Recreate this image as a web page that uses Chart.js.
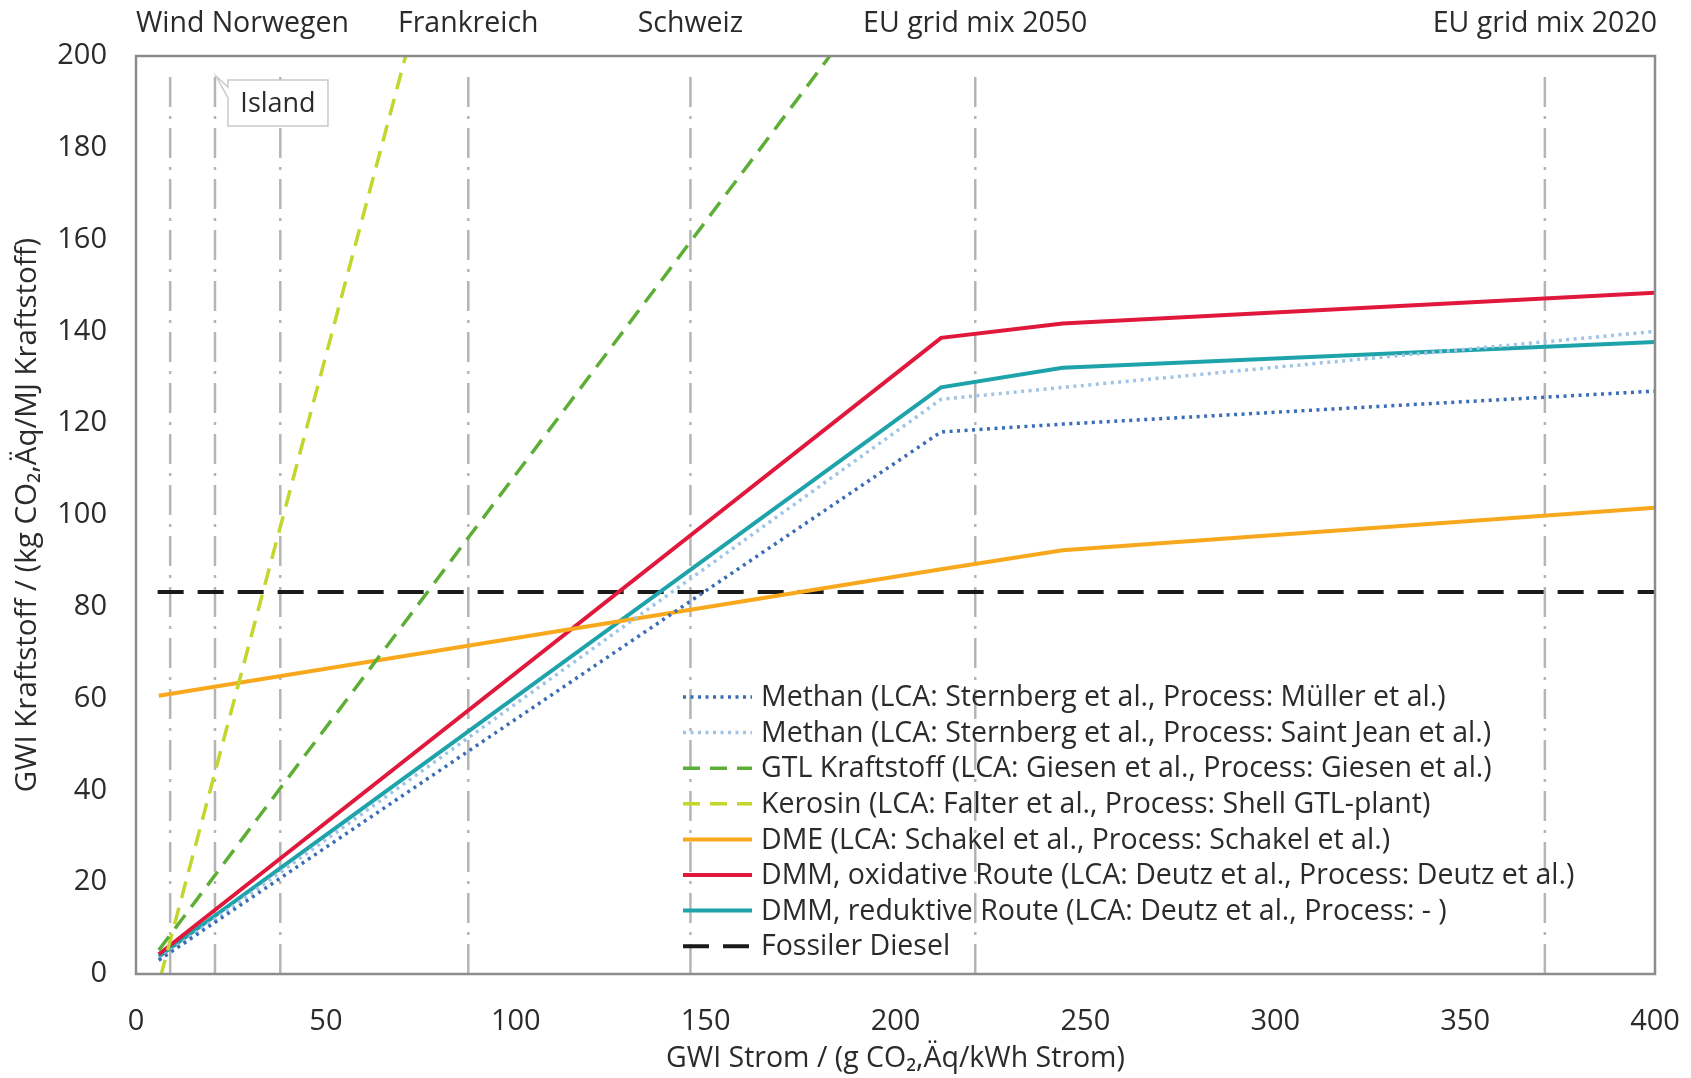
<!DOCTYPE html>
<html lang="de">
<head>
<meta charset="UTF-8">
<title>GWI Kraftstoff vs. GWI Strom</title>
<script src="https://cdn.jsdelivr.net/npm/chart.js@4.4.0/dist/chart.umd.min.js"></script>
<style>
  html, body { margin: 0; padding: 0; background: #fff; }
  #wrap { width: 1691px; height: 1078px; }
</style>
</head>
<body>
<div id="wrap"><canvas id="gwiChart" width="1691" height="1078"></canvas></div>
<script>
// electricity mixes, drawn as vertical dash-dot lines (g CO2,Äq/kWh)
const mixNames  = ['Wind', 'Island', 'Norwegen', 'Frankreich', 'Schweiz', 'EU grid mix 2050', 'EU grid mix 2020'];
const mixValues = [9, 20.8, 38, 87.5, 146, 221, 371];
const mixLineTop = 197;
const calloutName = 'Island';

// x = GWI Strom, y = GWI Kraftstoff
const methanMuellerX = [6, 212, 244, 400];
const methanMuellerY = [3, 118.1, 119.8, 127];
const methanSaintJeanX = [6, 212, 244, 400];
const methanSaintJeanY = [3.2, 125.2, 127.8, 140];
const gtlX = [6, 182.7];
const gtlY = [5.2, 200];
const kerosinX = [6.5, 71];
const kerosinY = [-0.5, 200];
const dmeX = [6, 212, 244, 400];
const dmeY = [60.6, 88.2, 92.3, 101.6];
const dmmOxX = [6, 212, 244, 400];
const dmmOxY = [4.3, 138.6, 141.7, 148.4];
const dmmRedX = [6, 212, 244, 400];
const dmmRedY = [3.8, 127.8, 132.1, 137.7];
const dieselX = [5.7, 400];
const dieselY = [83.2, 83.2];

const xTicks = [0, 50, 100, 150, 200, 250, 300, 350, 400];
const yTicks = [0, 20, 40, 60, 80, 100, 120, 140, 160, 180, 200];

const FONT = "'Open Sans', sans-serif";
const TEXT = '#2b2b2b';

function pts(xs, ys) { return xs.map((x, i) => ({ x: x, y: ys[i] })); }

function series(label, xs, ys, color, width, dash) {
  return {
    label: label, data: pts(xs, ys), borderColor: color, backgroundColor: color,
    borderWidth: width, borderDash: dash || [], pointRadius: 0, tension: 0, order: 0
  };
}

const datasets = [
  series('Methan (LCA: Sternberg et al., Process: Müller et al.)', methanMuellerX, methanMuellerY, '#3a6db5', 3.5, [3, 4.5]),
  series('Methan (LCA: Sternberg et al., Process: Saint Jean et al.)', methanSaintJeanX, methanSaintJeanY, '#9fc4e6', 3.5, [3, 4.5]),
  series('GTL Kraftstoff (LCA: Giesen et al., Process: Giesen et al.)', gtlX, gtlY, '#5cae36', 3.5, [17, 10]),
  series('Kerosin (LCA: Falter et al., Process: Shell GTL-plant)', kerosinX, kerosinY, '#c2d62c', 3.5, [17, 10]),
  series('DME (LCA: Schakel et al., Process: Schakel et al.)', dmeX, dmeY, '#f8a81c', 4),
  series('DMM, oxidative Route (LCA: Deutz et al., Process: Deutz et al.)', dmmOxX, dmmOxY, '#e0183c', 4),
  series('DMM, reduktive Route (LCA: Deutz et al., Process: - )', dmmRedX, dmmRedY, '#1fa3aa', 4),
  series('Fossiler Diesel', dieselX, dieselY, '#1a1a1a', 4, [26, 14])
];

mixValues.forEach((v, i) => {
  datasets.push({
    label: mixNames[i], isRef: true,
    data: [{ x: v, y: 0 }, { x: v, y: mixLineTop }],
    borderColor: '#b5b5b5', borderWidth: 2.5, borderDash: [30, 9, 3, 9],
    pointRadius: 0, order: 10
  });
});

// frame + mix labels + callout
const decorPlugin = {
  id: 'decor',
  afterDatasetsDraw(chart) {
    const { ctx, chartArea: a, scales: { x } } = chart;
    ctx.save();
    ctx.strokeStyle = '#8c8c8c';
    ctx.lineWidth = 2.5;
    ctx.strokeRect(a.left, a.top, a.right - a.left, a.bottom - a.top);

    ctx.font = '28.5px ' + FONT;
    ctx.fillStyle = TEXT;
    ctx.textAlign = 'center';
    ctx.textBaseline = 'middle';
    mixNames.forEach((name, i) => {
      const px = x.getPixelForValue(mixValues[i]);
      if (name === calloutName) {
        const bx = px + 13, by = a.top + 24, bw = 100, bh = 46;
        ctx.beginPath();
        ctx.moveTo(bx, by);
        ctx.lineTo(bx + bw, by);
        ctx.lineTo(bx + bw, by + bh);
        ctx.lineTo(bx, by + bh);
        ctx.lineTo(bx, by + 18);
        ctx.lineTo(px + 1, by - 4);
        ctx.lineTo(bx, by + 7);
        ctx.closePath();
        ctx.fillStyle = '#fff';
        ctx.fill();
        ctx.strokeStyle = '#c9c9c9';
        ctx.lineWidth = 1.5;
        ctx.stroke();
        ctx.fillStyle = TEXT;
        ctx.font = '27px ' + FONT;
        ctx.fillText(name, bx + bw / 2, by + bh / 2 + 1);
        ctx.font = '28.5px ' + FONT;
      } else {
        ctx.fillText(name, px, 24);
      }
    });
    ctx.restore();
  }
};

// legend inside the plot, lower right
const legendPlugin = {
  id: 'innerLegend',
  afterDraw(chart) {
    const { ctx, chartArea: a } = chart;
    const left = a.left + 547, top = 697, step = 35.6, sample = 69;
    ctx.save();
    ctx.font = '28.5px ' + FONT;
    ctx.textAlign = 'left';
    ctx.textBaseline = 'middle';
    chart.data.datasets.filter(d => !d.isRef).forEach((d, i) => {
      const yy = top + i * step;
      ctx.strokeStyle = d.borderColor;
      ctx.lineWidth = d.borderWidth;
      ctx.setLineDash(d.borderDash);
      ctx.beginPath();
      ctx.moveTo(left, yy);
      ctx.lineTo(left + sample, yy);
      ctx.stroke();
      ctx.setLineDash([]);
      ctx.fillStyle = TEXT;
      ctx.fillText(d.label, left + sample + 9, yy + 1);
    });
    ctx.restore();
  }
};

new Chart(document.getElementById('gwiChart'), {
  type: 'line',
  data: { datasets: datasets },
  options: {
    responsive: false,
    animation: false,
    layout: { padding: { top: 56, right: 36, left: 10, bottom: 2 } },
    plugins: { legend: { display: false }, tooltip: { enabled: false } },
    scales: {
      x: {
        type: 'linear', min: 0, max: 400,
        afterBuildTicks: s => { s.ticks = xTicks.map(v => ({ value: v })); },
        afterFit: s => { s.height = 102; s.paddingRight = 0; s.paddingLeft = 0; },
        grid: { display: false },
        border: { display: false },
        ticks: { padding: 22, color: TEXT, font: { family: FONT, size: 29 } },
        title: { display: true, text: 'GWI Strom / (g CO₂,Äq/kWh Strom)', color: TEXT,
                 font: { family: FONT, size: 28.5 }, padding: { top: 0, bottom: 0 } }
      },
      y: {
        type: 'linear', min: 0, max: 200,
        afterBuildTicks: s => { s.ticks = yTicks.map(v => ({ value: v })); },
        afterFit: s => { s.width = 126; s.paddingTop = 0; s.paddingBottom = 0; },
        grid: { display: false },
        border: { display: false },
        ticks: { padding: 21, color: TEXT, font: { family: FONT, size: 29 } },
        title: { display: true, text: 'GWI Kraftstoff / (kg CO₂,Äq/MJ Kraftstoff)', color: TEXT,
                 font: { family: FONT, size: 29.5 }, padding: { top: 0, bottom: 0 } }
      }
    }
  },
  plugins: [decorPlugin, legendPlugin]
});
</script>
</body>
</html>
